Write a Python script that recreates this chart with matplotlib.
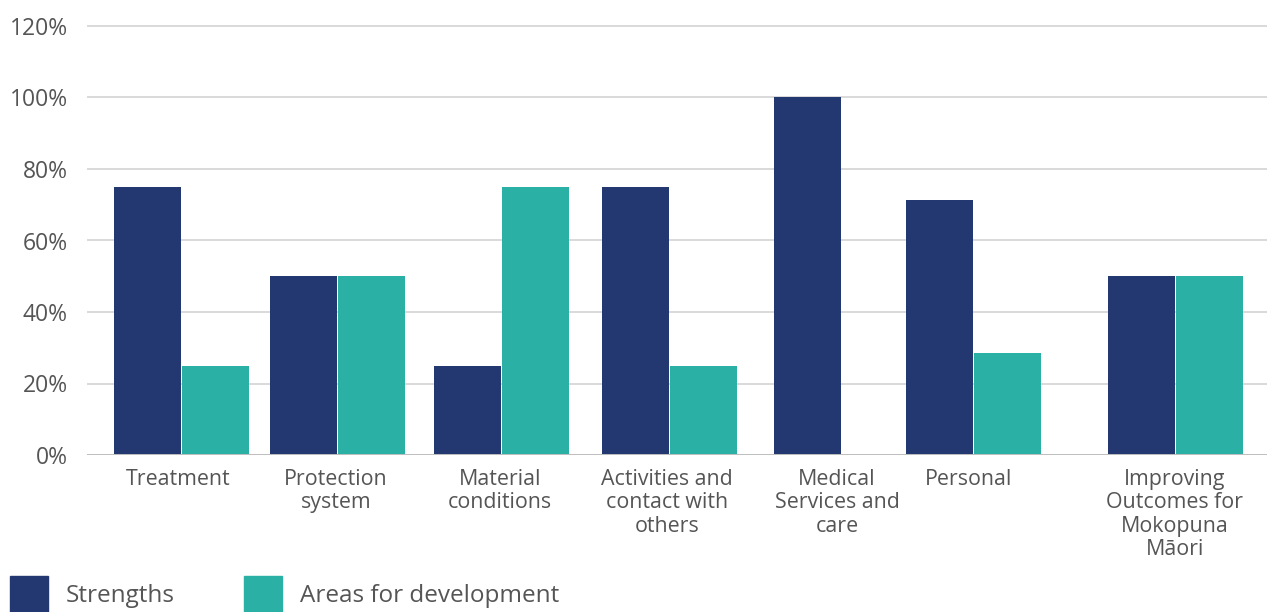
import matplotlib
matplotlib.use("Agg")
import matplotlib.pyplot as plt
from matplotlib.patches import Rectangle

# Data
categories = [
    "Treatment",
    "Protection\nsystem",
    "Material\nconditions",
    "Activities and\ncontact with\nothers",
    "Medical\nServices and\ncare",
    "Personal",
    "Improving\nOutcomes for\nMokopuna\nMāori",
]
strengths = [75, 50, 25, 75, 100, 71.4, 50]
development = [25, 50, 75, 25, 0, 28.6, 50]
series_names = ["Strengths", "Areas for development"]
y_ticks = [0, 20, 40, 60, 80, 100, 120]

# Layout: group centres along the x axis and bar width (axis units)
group_centres = [181, 337, 501.5, 669, 841, 973, 1175]
label_centres = [178, 336, 500, 667, 837, 969, 1175]
bar_width = 68

navy = "#233870"
teal = "#2AB0A5"
text_color = "#555555"

plt.rcParams["font.family"] = ["Open Sans", "DejaVu Sans"]

W, H = 1267, 612
fig = plt.figure(figsize=(W / 100, H / 100), dpi=100)

ax_left, ax_right = 87, 1267
ax_bottom, ax_top = 455, 16
px_per_unit = 3.575
ymax = (ax_bottom - ax_top) / px_per_unit
ax = fig.add_axes([ax_left / W, 1 - ax_bottom / H,
                   (ax_right - ax_left) / W, (ax_bottom - ax_top) / H])
ax.set_xlim(ax_left, ax_right)
ax.set_ylim(0, ymax)

left_x = [c - bar_width / 2 for c in group_centres]
right_x = [c + bar_width / 2 for c in group_centres]
ax.bar(left_x, strengths, width=bar_width - 1, color=navy, zorder=3)
ax.bar(right_x, development, width=bar_width - 1, color=teal, zorder=3)

ax.set_yticks(y_ticks)
ax.set_yticklabels([f"{v}%" for v in y_ticks])
ax.yaxis.grid(True, color="#d9d9d9", linewidth=1.4, zorder=0)
ax.axhline(0, color="#bfbfbf", linewidth=1.4, zorder=4)
ax.set_xticks(label_centres)
ax.set_xticklabels(categories, linespacing=1.15)

for s in ax.spines.values():
    s.set_visible(False)
ax.tick_params(axis="both", length=0, labelcolor=text_color)
ax.tick_params(axis="y", pad=13.7, labelsize=16.5)
ax.tick_params(axis="x", pad=10, labelsize=15.4)

# Legend drawn along the bottom edge
legend_items = [(10, navy, series_names[0]), (244, teal, series_names[1])]
for x0, col, label in legend_items:
    fig.patches.append(Rectangle((x0 / W, 1 - 614 / H), 38 / W, 38 / H,
                                 transform=fig.transFigure, color=col))
    fig.text((x0 + 56) / W, 1 - 596 / H, label, fontsize=17.5,
             color=text_color, va="center", ha="left")

fig.savefig("out.png", dpi=100)
